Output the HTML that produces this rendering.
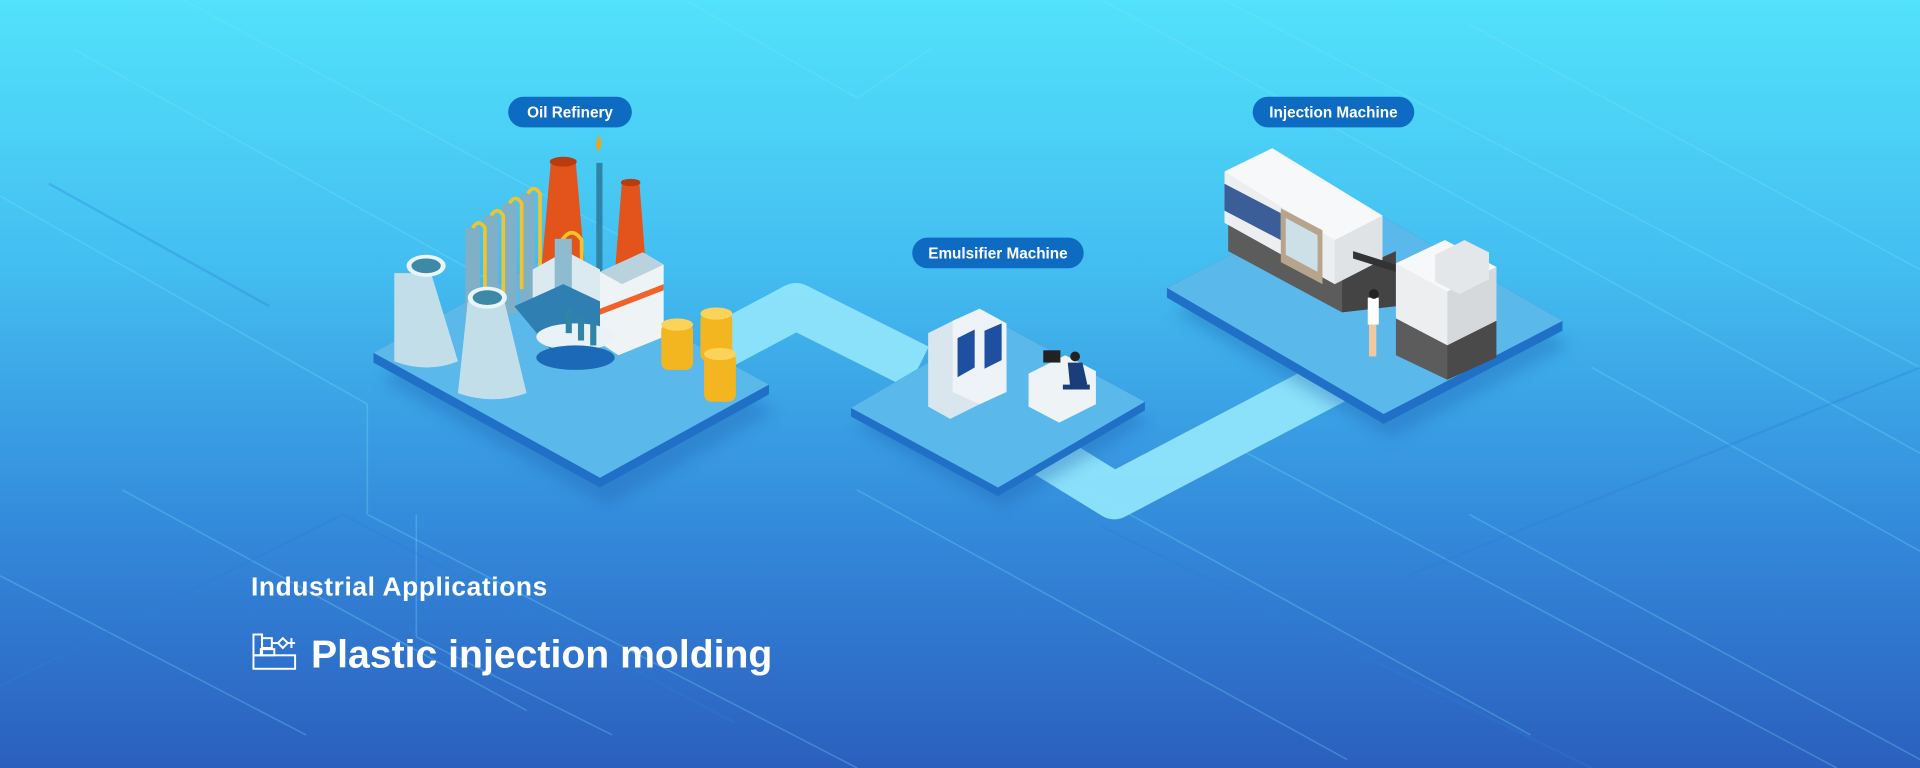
<!DOCTYPE html>
<html><head><meta charset="utf-8"><style>
html,body{margin:0;padding:0;width:1920px;height:768px;overflow:hidden;background:#3a9be0}
svg{display:block}
text{font-family:"Liberation Sans",sans-serif;font-weight:bold;fill:#fff}
</style></head><body>
<svg width="1920" height="768" viewBox="0 0 1568 627" preserveAspectRatio="none" xmlns="http://www.w3.org/2000/svg">
<defs>
<linearGradient id="bg" x1="0" y1="0" x2="0" y2="1">
<stop offset="0" stop-color="#52e2fb"/><stop offset="0.35" stop-color="#43bdf0"/><stop offset="0.7" stop-color="#3388da"/><stop offset="1" stop-color="#2b5fbe"/>
</linearGradient>
<filter id="sh" x="-20%" y="-20%" width="140%" height="160%"><feGaussianBlur stdDeviation="6"/></filter>
</defs>
<rect width="1568" height="627" fill="url(#bg)"/>
<g stroke="#7fe3fb" stroke-opacity="0.28" fill="none" stroke-width="1.3">
<path d="M0 160 L300 330 L300 420 L700 627"/><path d="M60 40 L420 240"/><path d="M150 0 L520 200"/>
<path d="M900 0 L1100 110 L1568 370"/><path d="M1000 0 L1568 300"/><path d="M1200 20 L1568 220"/>
<path d="M700 400 L1100 620"/><path d="M850 380 L1250 600"/><path d="M1000 360 L1500 627"/>
<path d="M0 470 L250 600"/><path d="M100 400 L430 580"/><path d="M340 420 L340 520 L500 600"/>
<path d="M1300 300 L1568 450"/><path d="M1200 420 L1568 620"/><path d="M560 0 L700 80 L760 40"/>
</g>
<g stroke="#2b7fd8" stroke-opacity="0.3" fill="none" stroke-width="2">
<path d="M0 560 L280 420 L600 590"/><path d="M900 430 L1300 627"/><path d="M1150 470 L1568 300"/><path d="M40 150 L220 250"/>
</g>
<g fill="none" stroke="#8fe4fb" stroke-width="38" stroke-linejoin="round" opacity="0.95">
<path d="M590 282 L650 250 L750 300"/>
<path d="M850 368 L910 405 L1110 300"/>
</g>
<g>
<polygon points="305,288 443,212 628,314 490,390" fill="#1a5fae" opacity="0.35" transform="translate(6,22)" filter="url(#sh)"/>
<polygon points="305,288 443,212 628,314 628,322 490,398 305,296" fill="#1f70c6"/>
<polygon points="305,288 443,212 628,314 490,390" fill="#5ab8ea"/>
<polygon points="695,333 815,263 935,328 815,398" fill="#1a5fae" opacity="0.35" transform="translate(4,16)" filter="url(#sh)"/>
<polygon points="695,333 815,263 935,328 935,335 815,405 695,340" fill="#1f70c6"/>
<polygon points="695,333 815,263 935,328 815,398" fill="#5ab8ea"/>
<polygon points="953,235 1099,159 1276,262 1130,338" fill="#1a5fae" opacity="0.35" transform="translate(6,20)" filter="url(#sh)"/>
<polygon points="953,235 1099,159 1276,262 1276,270 1130,346 953,243" fill="#1f70c6"/>
<polygon points="953,235 1099,159 1276,262 1130,338" fill="#5ab8ea"/>
</g>
<g>
<polygon points="450,130 470,130 478,222 442,222" fill="#e2541c"/><ellipse cx="460" cy="132" rx="11" ry="4" fill="#b73c10"/>
<polygon points="508,147 522,147 528,225 502,225" fill="#e2541c"/><ellipse cx="515" cy="149" rx="8" ry="3" fill="#b73c10"/>
<rect x="487" y="133" width="5" height="110" fill="#2f84a8"/><path d="M489 110 q-4 10 0 14 q4 -8 0 -14" fill="#f6a20f"/>
<g fill="#7fb0c8"><rect x="380" y="186" width="12" height="90"/><rect x="395" y="176" width="12" height="90"/><rect x="410" y="166" width="12" height="90"/><rect x="425" y="158" width="12" height="90"/></g>
<g stroke="#f3c32a" stroke-width="3" fill="none"><path d="M386 186 q5 -8 10 0 v70"/><path d="M401 176 q5 -8 10 0 v70"/><path d="M416 166 q5 -8 10 0 v70"/><path d="M431 158 q5 -8 10 0 v70"/><path d="M459 196 q8 -12 16 0 v60"/></g>
<polygon points="435,220 462,205 490,220 490,265 462,280 435,265" fill="#dbe9f0"/>
<polygon points="490,222 525,206 542,216 542,275 505,290 490,280" fill="#eef3f6"/>
<polygon points="490,222 525,206 542,216 508,232" fill="#b9d3de"/>
<polygon points="490,252 542,232 542,237 490,257" fill="#f0622a"/>
<rect x="453" y="195" width="14" height="75" fill="#8dbbd0"/>
<path d="M420 250 l40 -18 l30 14 l0 22 l-40 18 z" fill="#2f7fb2"/>
<ellipse cx="470" cy="275" rx="32" ry="11" fill="#e8f2f7"/><ellipse cx="470" cy="292" rx="32" ry="10" fill="#1a6ab8"/>
<g fill="#2f84a8"><rect x="462" y="252" width="5" height="20"/><rect x="472" y="258" width="5" height="20"/><rect x="482" y="262" width="5" height="20"/></g>
<path d="M322 223 h30 l22 72 q-25 10 -52 0 z" fill="#c2dfe9"/><ellipse cx="348" cy="217" rx="16" ry="9" fill="#eaf5f9"/><ellipse cx="348" cy="217" rx="12" ry="6" fill="#3d8aa8"/>
<path d="M382 246 h30 l18 75 q-28 10 -56 0 z" fill="#c2dfe9"/><ellipse cx="398" cy="243" rx="16" ry="9" fill="#eaf5f9"/><ellipse cx="398" cy="243" rx="12" ry="6" fill="#3d8aa8"/>
<g fill="#f3b520"><rect x="540" y="264" width="26" height="38" rx="6"/><rect x="572" y="255" width="26" height="40" rx="6"/><rect x="575" y="288" width="26" height="40" rx="6"/></g>
<g fill="#fbd35a"><ellipse cx="553" cy="265" rx="13" ry="5"/><ellipse cx="585" cy="256" rx="13" ry="5"/><ellipse cx="588" cy="289" rx="13" ry="5"/></g>
</g>
<g>
<polygon points="758,272 782,260 800,270 800,330 776,342 758,332" fill="#d9e6ee"/>
<polygon points="778,262 800,252 822,264 822,320 800,330 778,320" fill="#eef3f7"/>
<polygon points="782,276 796,269 796,300 782,308" fill="#1f4fa0"/><polygon points="804,270 818,264 818,294 804,301" fill="#1f4fa0"/>
<polygon points="840,305 870,290 895,303 895,330 865,345 840,332" fill="#eef3f6"/>
<rect x="852" y="286" width="14" height="10" fill="#222"/>
<circle cx="878" cy="291" r="4" fill="#222"/><path d="M872 296 l12 0 l4 18 l-14 2 z" fill="#1a3e7a"/><path d="M868 314 h22 v4 h-22z" fill="#1a3e7a"/>
</g>
<g>
<polygon points="1003,175 1096,225 1096,255 1003,205" fill="#5c5c5c"/>
<polygon points="1096,225 1140,205 1140,250 1096,255" fill="#444"/>
<polygon points="1000,140 1039,121 1129,176 1129,212 1090,232 1000,182" fill="#eceef0"/>
<polygon points="1000,140 1039,121 1129,176 1090,196" fill="#f7f8f9"/>
<polygon points="1090,196 1129,176 1129,212 1090,232" fill="#dfe3e6"/>
<polygon points="1000,150 1046,174 1046,196 1000,172" fill="#3b5e98"/>
<polygon points="1046,170 1080,188 1080,232 1046,214" fill="#b6a48c"/>
<polygon points="1050,178 1076,192 1076,222 1050,208" fill="#cde0e8"/>
<polygon points="1105,205 1140,216 1140,222 1105,211" fill="#333"/>
<polygon points="1140,215 1180,196 1222,218 1222,262 1182,282 1140,260" fill="#eceef0"/>
<polygon points="1140,215 1180,196 1222,218 1182,238" fill="#f7f8f9"/>
<polygon points="1182,238 1222,218 1222,262 1182,282" fill="#d5d9dc"/>
<polygon points="1172,208 1196,196 1216,206 1216,228 1192,240 1172,230" fill="#e4e7ea"/>
<polygon points="1140,260 1182,282 1222,262 1222,292 1182,310 1140,290" fill="#5c5c5c"/>
<polygon points="1182,282 1222,262 1222,292 1182,310" fill="#4a4a4a"/>
<rect x="1117" y="243" width="9" height="22" fill="#fff"/><circle cx="1122" cy="240" r="4" fill="#222"/><rect x="1118" y="265" width="6" height="26" fill="#f2c8a0"/>
</g>
<g>
<rect x="415" y="79" width="101" height="25" rx="12.5" fill="#0d6cc2"/>
<text x="465.5" y="96" font-size="12.5" text-anchor="middle">Oil  Refinery</text>
<rect x="745" y="194" width="140" height="25" rx="12.5" fill="#0d6cc2"/>
<text x="815" y="211" font-size="12.5" text-anchor="middle">Emulsifier Machine</text>
<rect x="1023" y="79" width="132" height="25" rx="12.5" fill="#0d6cc2"/>
<text x="1089" y="96" font-size="12.5" text-anchor="middle">Injection Machine</text>
</g>
<text x="205" y="486" font-size="21.5" letter-spacing="0.5">Industrial Applications</text>
<text x="254" y="545" font-size="32">Plastic injection molding</text>
<g fill="none" stroke="#fff" stroke-width="1.6">
<rect x="207" y="535" width="34" height="11"/><rect x="213" y="530" width="11" height="5"/>
<rect x="207" y="518" width="7" height="17"/><rect x="214" y="521" width="8" height="8"/>
<path d="M222 525 h5 l4 -4 l4 4 l-4 4 l-4 -4"/><path d="M235 525 h6 M238 521 v8"/>
</g>
</svg>
</body></html>
